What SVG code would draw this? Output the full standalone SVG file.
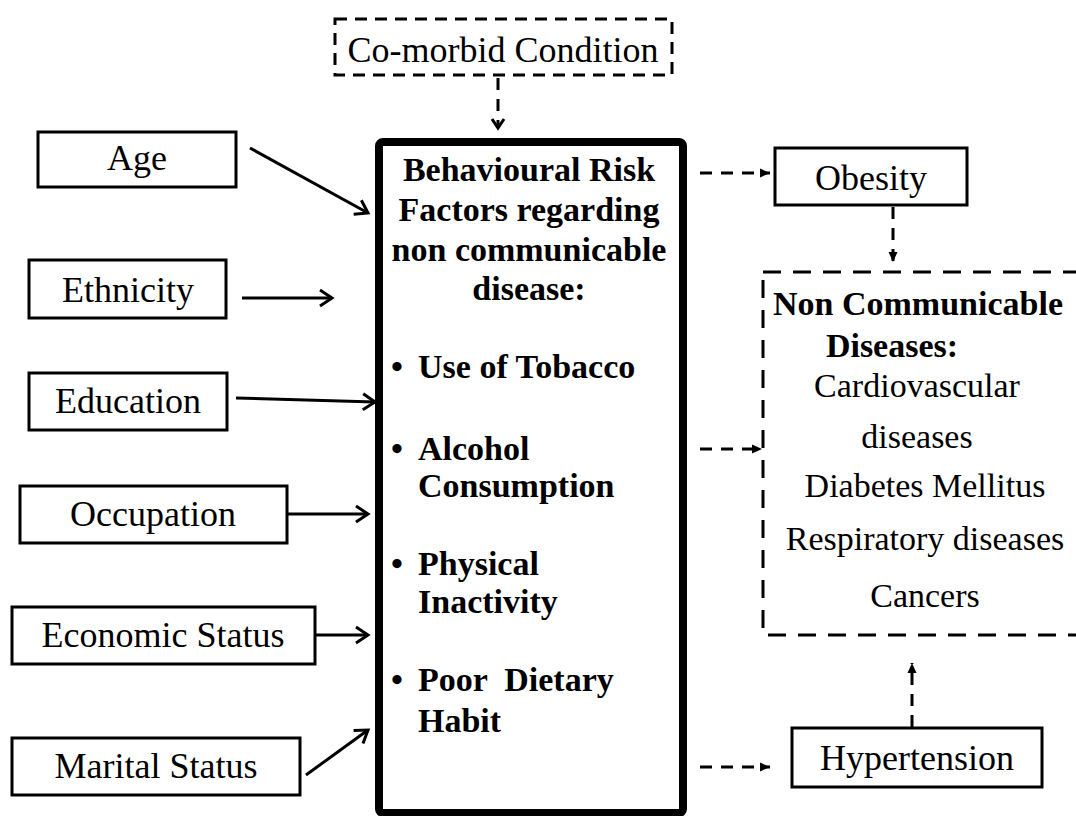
<svg xmlns="http://www.w3.org/2000/svg" width="1076" height="816" viewBox="0 0 1076 816">
<style>
text{font-family:"Liberation Serif","Times New Roman",serif;fill:#000}
.r{font-size:36px;text-anchor:middle}
.b{font-size:34px;font-weight:bold}
.bc{font-size:34px;font-weight:bold;text-anchor:middle}
.n{font-size:34px;text-anchor:middle}
.box{fill:#fff;stroke:#000;stroke-width:3}
.dbox{fill:none;stroke:#000;stroke-width:3;stroke-dasharray:12 8}
.sol{stroke:#000;stroke-width:3;fill:none}
.dsh{stroke:#000;stroke-width:3;fill:none;stroke-dasharray:12 9}
</style>
<defs>
<marker id="chev" markerWidth="20" markerHeight="20" refX="15" refY="10" orient="auto" markerUnits="userSpaceOnUse">
<path d="M3,2 L15,10 L3,18" fill="none" stroke="#000" stroke-width="3"/>
</marker>
<marker id="chevs" markerWidth="16" markerHeight="16" refX="12" refY="8" orient="auto" markerUnits="userSpaceOnUse">
<path d="M3,2 L12,8 L3,14" fill="none" stroke="#000" stroke-width="3"/>
</marker>
<marker id="tri" markerWidth="12" markerHeight="12" refX="10" refY="6" orient="auto" markerUnits="userSpaceOnUse">
<path d="M0,1.5 L10,6 L0,10.5 Z" fill="#000"/>
</marker>
</defs>
<rect width="1076" height="816" fill="#fff"/>

<g id="connectors">
<line class="sol" x1="250" y1="148" x2="368" y2="213" marker-end="url(#chev)"/>
<line class="sol" x1="242" y1="298" x2="332" y2="298" marker-end="url(#chev)"/>
<line class="sol" x1="236" y1="398" x2="375" y2="402" marker-end="url(#chev)"/>
<line class="sol" x1="287" y1="514" x2="368" y2="514" marker-end="url(#chev)"/>
<line class="sol" x1="315" y1="635" x2="368" y2="635" marker-end="url(#chev)"/>
<line class="sol" x1="306" y1="775" x2="368" y2="730" marker-end="url(#chev)"/>
<line class="dsh" x1="498" y1="78" x2="498" y2="128" marker-end="url(#chevs)"/>
<line class="dsh" x1="700" y1="173" x2="770" y2="173" marker-end="url(#tri)"/>
<line class="dsh" x1="893" y1="207" x2="893" y2="262" marker-end="url(#tri)"/>
<line class="dsh" x1="700" y1="449" x2="762" y2="449" marker-end="url(#tri)"/>
<line class="dsh" x1="700" y1="767" x2="770" y2="767" marker-end="url(#tri)"/>
<line class="dsh" x1="912" y1="727" x2="912" y2="663" marker-end="url(#tri)"/>
</g>

<g id="comorbid">
<rect class="dbox" x="335" y="19" width="337" height="56"/>
<text class="r" x="503" y="62">Co-morbid Condition</text>
</g>

<g id="age">
<rect class="box" x="38" y="132" width="198" height="55"/>
<text class="r" x="137" y="170">Age</text>
</g>
<g id="ethnicity">
<rect class="box" x="29" y="260" width="197" height="58"/>
<text class="r" x="128" y="302">Ethnicity</text>
</g>
<g id="education">
<rect class="box" x="29" y="373" width="198" height="57"/>
<text class="r" x="128" y="413">Education</text>
</g>
<g id="occupation">
<rect class="box" x="20" y="486" width="267" height="57"/>
<text class="r" x="153" y="526">Occupation</text>
</g>
<g id="economic">
<rect class="box" x="12" y="607" width="303" height="57"/>
<text class="r" x="163" y="647">Economic Status</text>
</g>
<g id="marital">
<rect class="box" x="12" y="738" width="288" height="57"/>
<text class="r" x="156" y="778">Marital Status</text>
</g>

<g id="behavioural">
<rect x="379" y="142" width="304" height="671" rx="4" fill="#fff" stroke="#000" stroke-width="8"/>
<text class="bc" x="529" y="181">Behavioural Risk</text>
<text class="bc" x="529" y="221">Factors regarding</text>
<text class="bc" x="529" y="261">non communicable</text>
<text class="bc" x="529" y="300">disease:</text>
<text class="b" x="391" y="378">•</text><text class="b" x="418" y="378">Use of Tobacco</text>
<text class="b" x="391" y="460">•</text><text class="b" x="418" y="460">Alcohol</text>
<text class="b" x="418" y="497">Consumption</text>
<text class="b" x="391" y="575">•</text><text class="b" x="418" y="575">Physical</text>
<text class="b" x="418" y="613">Inactivity</text>
<text class="b" x="391" y="691">•</text><text class="b" x="418" y="691" xml:space="preserve">Poor  Dietary</text>
<text class="b" x="418" y="732">Habit</text>
</g>

<g id="obesity">
<rect class="box" x="775" y="148" width="192" height="57"/>
<text class="r" x="871" y="190">Obesity</text>
</g>

<g id="ncd">
<rect x="763" y="272" width="340" height="363" fill="none" stroke="#000" stroke-width="3" stroke-dasharray="18 12"/>
<text class="bc" x="918" y="315">Non Communicable</text>
<text class="bc" x="892" y="357">Diseases:</text>
<text class="n" x="917" y="397">Cardiovascular</text>
<text class="n" x="917" y="448">diseases</text>
<text class="n" x="925" y="497">Diabetes Mellitus</text>
<text class="n" x="925" y="550">Respiratory diseases</text>
<text class="n" x="925" y="607">Cancers</text>
</g>

<g id="hypertension">
<rect class="box" x="792" y="728" width="250" height="59"/>
<text class="r" x="917" y="770">Hypertension</text>
</g>
</svg>
